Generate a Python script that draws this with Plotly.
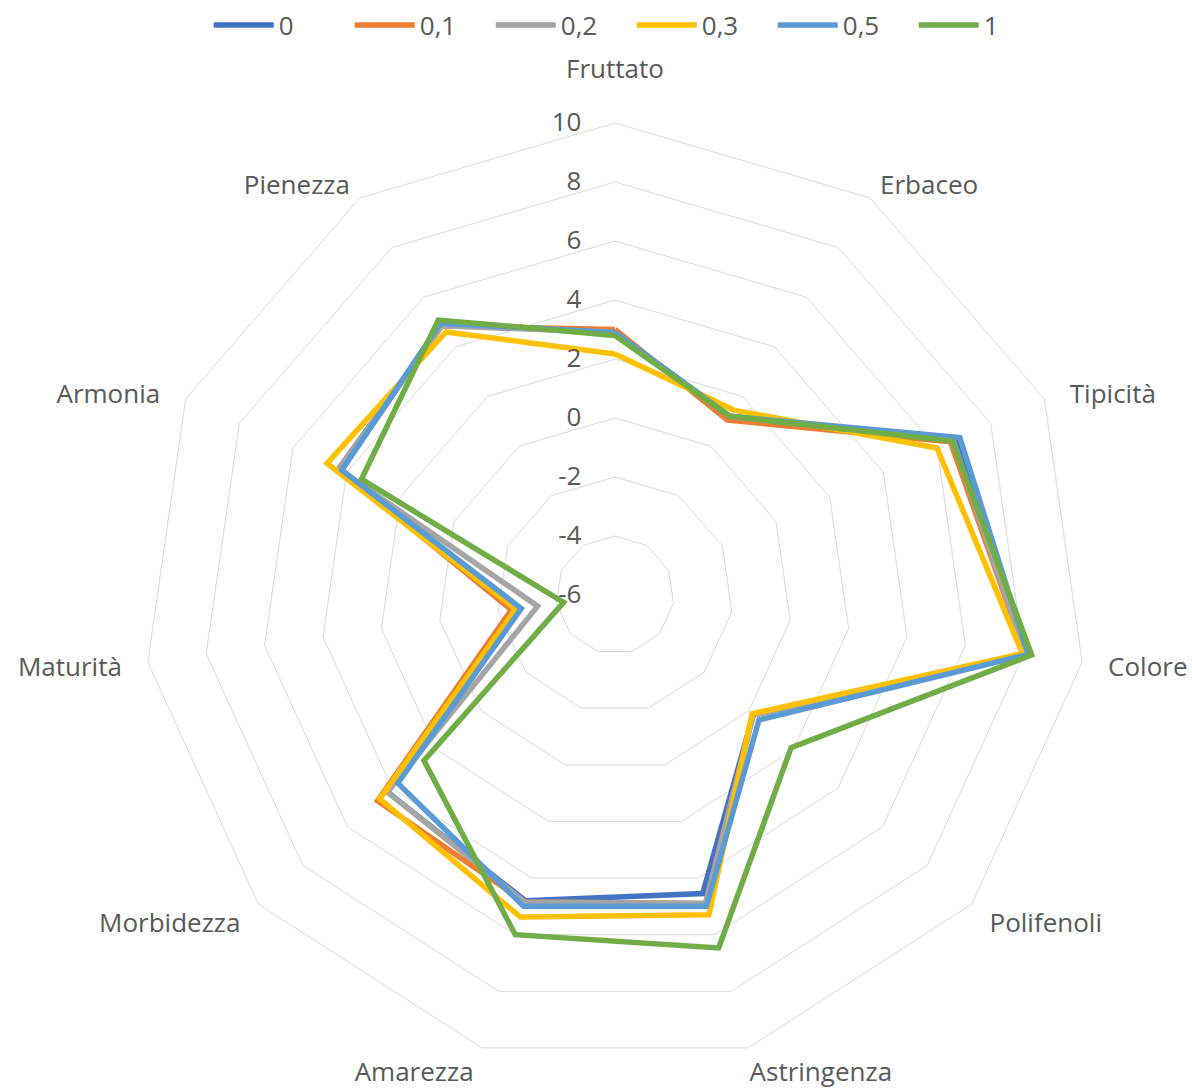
import plotly.graph_objects as go

categories = ["Fruttato", "Erbaceo", "Tipicità", "Colore", "Polifenoli", "Astringenza",
              "Amarezza", "Morbidezza", "Maturità", "Armonia", "Pienezza"]

series_names = ["0", "0,1", "0,2", "0,3", "0,5", "1"]
s_0   = [2.9, 1.2, 6.75, 8.15, 0.2, 4.55, 4.8, 4.2, -2.6, 4.2, 4.9]
s_01  = [3.0, 1.05, 6.5, 8.05, 0.2, 4.9, 4.85, 4.65, -2.45, 4.3, 4.85]
s_02  = [2.9, 1.2, 6.6, 8.05, 0.2, 4.9, 4.85, 4.2, -3.35, 4.3, 4.85]
s_03  = [2.17, 1.45, 6.0, 7.95, 0.15, 5.3, 5.38, 4.55, -2.6, 4.73, 4.6]
s_05  = [2.9, 1.2, 6.85, 8.15, 0.46, 5.0, 5.0, 3.74, -2.79, 4.18, 4.95]
s_1   = [2.8, 1.2, 6.57, 8.27, 1.9, 6.47, 6.0, 2.57, -4.24, 3.45, 5.08]
series_values = [s_0, s_01, s_02, s_03, s_05, s_1]
colors = ["#4472C4", "#ED7D31", "#A5A5A5", "#FFC000", "#5B9BD5", "#70AD47"]

radial_ticks = [-6, -4, -2, 0, 2, 4, 6, 8, 10]

# category label text as displayed (non-breaking spaces only pad the label away from the grid)
NB = "\u00a0"
category_labels = [
    "Fruttato<br>" + NB,
    NB + "Erbaceo",
    NB * 3 + "Tipicità",
    NB * 3 + "Colore",
    NB * 2 + "Polifenoli",
    "Astringenza",
    "Amarezza" + NB,
    "Morbidezza" + NB * 2,
    "Maturità" + NB * 3,
    "Armonia" + NB * 3,
    "Pienezza" + NB,
]

FONT = "Open Sans"
GREY = "#595959"
fig = go.Figure()
for name, vals, col in zip(series_names, series_values, colors):
    fig.add_trace(go.Scatterpolar(
        r=vals + [vals[0]],
        theta=categories + [categories[0]],
        mode="lines",
        name=name,
        line=dict(color=col, width=5.5),
    ))

fig.update_layout(
    width=1192, height=1092,
    paper_bgcolor="white",
    plot_bgcolor="white",
    margin=dict(l=143, r=105, t=123, b=25),
    font=dict(family=FONT, size=26, color=GREY),
    polar=dict(
        bgcolor="white",
        gridshape="linear",
        radialaxis=dict(
            range=[-6, 10],
            tickvals=radial_ticks,
            ticktext=[str(v) for v in radial_ticks],
            angle=90,
            tickangle=90,
            side="counterclockwise",
            showline=False,
            gridcolor="#D9D9D9",
            gridwidth=1,
            tickfont=dict(family=FONT, size=26, color=GREY),
            ticks="outside",
            ticklen=24,
            tickcolor="rgba(0,0,0,0)",
        ),
        angularaxis=dict(
            direction="clockwise",
            rotation=90,
            tickvals=categories,
            ticktext=category_labels,
            showgrid=False,
            showline=True,
            linecolor="#D9D9D9",
            linewidth=1,
            ticks="",
            tickfont=dict(family=FONT, size=26, color=GREY),
        ),
    ),
    legend=dict(
        orientation="h",
        xref="container", yref="container",
        x=0.53, y=0.977, xanchor="center", yanchor="middle",
        font=dict(family=FONT, size=26, color=GREY),
        itemwidth=60,
        entrywidth=66,
    ),
)

fig.write_html("out.html")
